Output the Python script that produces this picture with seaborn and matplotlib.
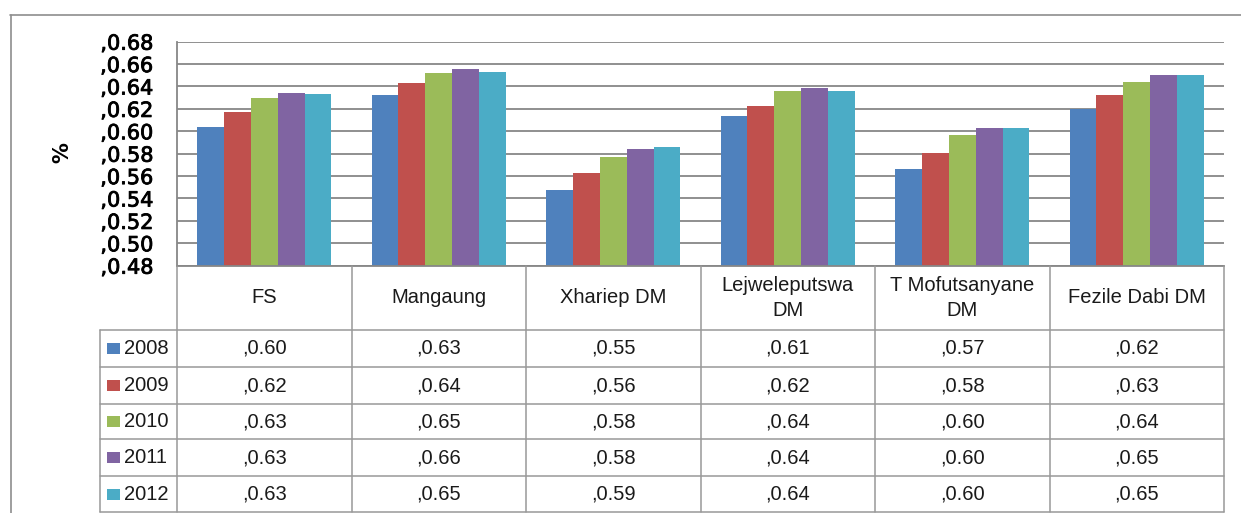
import textwrap
import numpy as np
import pandas as pd
import matplotlib
matplotlib.use("Agg")
import matplotlib.pyplot as plt
import matplotlib.patheffects as pe
import seaborn as sns
from matplotlib.lines import Line2D
from matplotlib.patches import Rectangle
from matplotlib.transforms import blended_transform_factory

# Human development index by Free State district, 2008-2012
regions = ["FS", "Mangaung", "Xhariep DM", "Lejweleputswa DM",
           "T Mofutsanyane DM", "Fezile Dabi DM"]
years = ["2008", "2009", "2010", "2011", "2012"]
hdi_2008 = [0.604, 0.632, 0.548, 0.614, 0.566, 0.620]
hdi_2009 = [0.617, 0.643, 0.563, 0.623, 0.581, 0.632]
hdi_2010 = [0.630, 0.652, 0.577, 0.636, 0.597, 0.644]
hdi_2011 = [0.634, 0.656, 0.584, 0.639, 0.603, 0.650]
hdi_2012 = [0.633, 0.653, 0.586, 0.636, 0.603, 0.650]
y_ticks = [0.48, 0.50, 0.52, 0.54, 0.56, 0.58, 0.60, 0.62, 0.64, 0.66, 0.68]

series = [hdi_2008, hdi_2009, hdi_2010, hdi_2011, hdi_2012]
colors = ["#4F81BD", "#C0504D", "#9BBB59", "#8064A2", "#4BACC6"]

df = pd.DataFrame(
    [(r, y, v) for y, vals in zip(years, series) for r, v in zip(regions, vals)],
    columns=["region", "year", "value"],
)

sns.set_style("white")
plt.rcParams["font.family"] = ["DejaVu Sans"]

W, H = 1241, 513
fig = plt.figure(figsize=(W / 100, H / 100), dpi=100)


def fy(p):
    """Convert a pixel row (from the top) to a figure fraction."""
    return 1 - p / H


def fx(p):
    return p / W


plot_top, plot_bottom = 41.7, 265.7
plot_left, plot_right = 177, 1224
ax = fig.add_axes([fx(plot_left), fy(plot_bottom),
                   fx(plot_right) - fx(plot_left), (plot_bottom - plot_top) / H])

sns.barplot(data=df, x="region", y="value", hue="year", order=regions,
            hue_order=years, palette=colors, width=0.77, saturation=1,
            linewidth=0, legend=False, ax=ax)

grid_color = "#878787"
ax.set_xlim(-0.5, len(regions) - 0.5)
ax.set_ylim(y_ticks[0], y_ticks[-1])
ax.set_yticks(y_ticks)
ax.set_yticklabels([f",{t:.2f}" for t in y_ticks], fontsize=15,
                   color="#000000")
for lbl in ax.get_yticklabels():
    lbl.set_path_effects([pe.withStroke(linewidth=0.6, foreground="#000000")])
ax.tick_params(axis="y", length=0, pad=17)
ax.set_xticks([])
ax.set_xlabel("")
ax.set_ylabel("")
ax.yaxis.grid(True, color=grid_color, linewidth=1.3)
ax.set_axisbelow(True)
for side in ("top", "right"):
    ax.spines[side].set_visible(False)
for side in ("left", "bottom"):
    ax.spines[side].set_color(grid_color)
    ax.spines[side].set_linewidth(1.3)

fig.text(fx(62), fy(153), "%", rotation=90, ha="center", va="center",
         fontsize=15, fontweight="bold", color="#000000")

# Outer chart frame
frame_color = "#8e8e8e"
fig.add_artist(Line2D([fx(10), 1], [fy(15), fy(15)], color=frame_color, lw=1.2))
fig.add_artist(Line2D([fx(11), fx(11)], [fy(15), 0], color=frame_color, lw=1.2))

# Data table beneath the plot
tx = blended_transform_factory(ax.transData, fig.transFigure)
line_color = "#999999"
row_edges = [330, 367, 404, 439, 476, 512]
legend_left = 100
table_font = dict(family="Liberation Sans", fontsize=14.5, color="#1a1a1a")

for i in range(len(regions) + 1):
    fig.add_artist(Line2D([i - 0.5, i - 0.5], [fy(plot_bottom), fy(row_edges[-1])],
                          transform=tx, color=line_color, lw=1.1))
fig.add_artist(Line2D([fx(legend_left)] * 2, [fy(row_edges[0]), fy(row_edges[-1])],
                      color=line_color, lw=1.1))
for e in row_edges:
    fig.add_artist(Line2D([fx(legend_left), fx(plot_right)], [fy(e), fy(e)],
                          color=line_color, lw=1.1))

header_mid = (plot_bottom + row_edges[0]) / 2
for j, name in enumerate(regions):
    fig.text(j, fy(header_mid), textwrap.fill(name, 14), transform=tx,
             ha="center", va="center", linespacing=1.4, **table_font)

for i, (year, vals, col) in enumerate(zip(years, series, colors)):
    mid = (row_edges[i] + row_edges[i + 1]) / 2
    fig.add_artist(Rectangle((fx(107), fy(mid + 5.5)), 13 / W, 11 / H,
                             transform=fig.transFigure, facecolor=col,
                             edgecolor="none"))
    fig.text(fx(124), fy(mid), year, ha="left", va="center", **table_font)
    for j, v in enumerate(vals):
        fig.text(j, fy(mid), f",{v:.2f}", transform=tx, ha="center",
                 va="center", **table_font)

fig.savefig("out.png", dpi=100)
